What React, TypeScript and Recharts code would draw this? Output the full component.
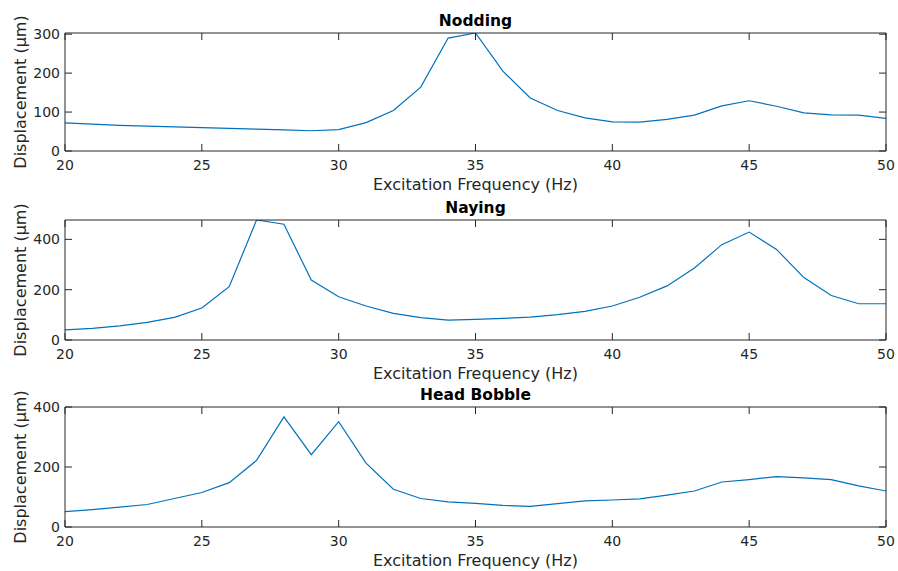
import React from 'react';
import { LineChart, Line, XAxis, YAxis, Label } from 'recharts';

const freq = [20, 21, 22, 23, 24, 25, 26, 27, 28, 29, 30, 31, 32, 33, 34, 35, 36, 37, 38, 39, 40, 41, 42, 43, 44, 45, 46, 47, 48, 49, 50];
const nodding = [72, 69, 66, 64, 62, 60, 58, 56, 54, 52, 55, 73, 104, 164, 290, 303, 205, 136, 104, 85, 75, 74, 81, 92, 116, 129, 115, 98, 93, 92, 84];
const naying = [40, 46, 56, 70, 90, 127, 212, 477, 460, 238, 172, 135, 106, 89, 79, 82, 86, 91, 101, 114, 135, 170, 215, 286, 379, 429, 360, 248, 177, 144, 144];
const headBobble = [51, 58, 66, 75, 95, 115, 148, 222, 367, 241, 351, 213, 126, 95, 84, 79, 72, 69, 78, 87, 90, 94, 106, 120, 150, 158, 168, 164, 158, 137, 120];

const xTicks = [20, 25, 30, 35, 40, 45, 50];
const noddingTicks = [0, 100, 200, 300];
const nayingTicks = [0, 200, 400];
const bobbleTicks = [0, 200, 400];

const titles = ['Nodding', 'Naying', 'Head Bobble'];
const xLabel = 'Excitation Frequency (Hz)';
const yLabel = 'Displacement (\u03bcm)';

const FONT = '"DejaVu Sans", sans-serif';
const AXIS = '#262626';
const LINE = '#0072BD';

type PanelProps = {
  title: string;
  values: number[];
  yMax: number;
  yTicks: number[];
  top: number;
  bottomMargin: number;
};

const Panel = ({ title, values, yMax, yTicks, top, bottomMargin }: PanelProps) => {
  const data = freq.map((f, i) => ({ f, v: values[i] }));
  const tickStyle = { fill: AXIS, fontSize: 14, fontFamily: FONT };
  return (
    <div style={{ position: 'absolute', left: 0, top, width: 898, height: 200 }}>
      <LineChart width={898} height={200} data={data} margin={{ top: 32, right: 11, bottom: bottomMargin, left: 20 }}>
        <XAxis
          xAxisId="b"
          dataKey="f"
          type="number"
          domain={[20, 50]}
          ticks={xTicks}
          allowDataOverflow
          height={28}
          tickSize={-7}
          tickMargin={16}
          stroke={AXIS}
          tick={tickStyle}
          tickLine={{ stroke: AXIS }}
          axisLine={{ stroke: AXIS }}
        >
          <Label value={xLabel} position="bottom" offset={0} fill={AXIS} fontSize={16} fontFamily={FONT} />
        </XAxis>
        <XAxis
          xAxisId="t"
          orientation="top"
          dataKey="f"
          type="number"
          domain={[20, 50]}
          ticks={xTicks}
          allowDataOverflow
          height={1}
          tickSize={-7}
          tickFormatter={() => ''}
          stroke={AXIS}
          tickLine={{ stroke: AXIS }}
          axisLine={{ stroke: AXIS }}
        >
          <Label value={title} position="top" offset={6} fill="#000000" fontSize={15.5} fontWeight="bold" fontFamily={FONT} />
        </XAxis>
        <YAxis
          yAxisId="l"
          type="number"
          domain={[0, yMax]}
          ticks={yTicks}
          allowDataOverflow
          width={45}
          tickSize={-7}
          tickMargin={12}
          stroke={AXIS}
          tick={tickStyle}
          tickLine={{ stroke: AXIS }}
          axisLine={{ stroke: AXIS }}
        >
          <Label
            value={yLabel}
            angle={-90}
            position="insideLeft"
            offset={0}
            fill={AXIS}
            fontSize={16}
            fontFamily={FONT}
            style={{ textAnchor: 'middle' }}
          />
        </YAxis>
        <YAxis
          yAxisId="r"
          orientation="right"
          type="number"
          domain={[0, yMax]}
          ticks={yTicks}
          allowDataOverflow
          width={1}
          tickSize={-7}
          tickFormatter={() => ''}
          stroke={AXIS}
          tickLine={{ stroke: AXIS }}
          axisLine={{ stroke: AXIS }}
        />
        <Line
          xAxisId="t"
          yAxisId="r"
          type="linear"
          dataKey="v"
          stroke="none"
          strokeWidth={0}
          dot={false}
          activeDot={false}
          legendType="none"
          isAnimationActive={false}
        />
        <Line
          xAxisId="b"
          yAxisId="l"
          type="linear"
          dataKey="v"
          stroke={LINE}
          strokeWidth={1.2}
          dot={false}
          activeDot={false}
          isAnimationActive={false}
        />
      </LineChart>
    </div>
  );
};

export default function App() {
  return (
    <div style={{ position: 'absolute', left: 0, top: 0, width: 898, height: 571, background: '#ffffff', fontFamily: FONT }}>
      <Panel title={titles[0]} values={nodding} yMax={303} yTicks={noddingTicks} top={0} bottomMargin={21} />
      <Panel title={titles[1]} values={naying} yMax={477} yTicks={nayingTicks} top={187} bottomMargin={19} />
      <Panel title={titles[2]} values={headBobble} yMax={400} yTicks={bobbleTicks} top={374} bottomMargin={19} />
    </div>
  );
}
